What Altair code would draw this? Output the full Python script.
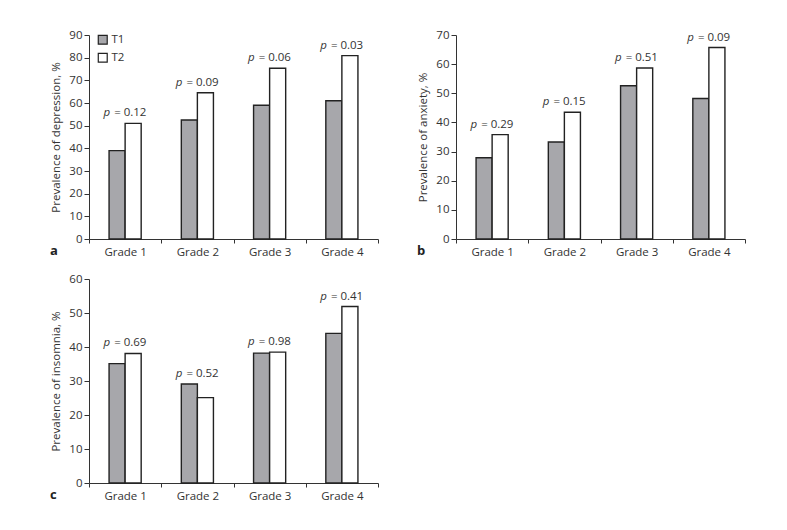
import altair as alt
import pandas as pd

grades = ["Grade 1", "Grade 2", "Grade 3", "Grade 4"]
times = ["T1", "T2"]

depression_t1 = [39, 52.5, 59, 61]
depression_t2 = [51, 64.5, 75.3, 80.9]
depression_p = ["= 0.12", "= 0.09", "= 0.06", "= 0.03"]

anxiety_t1 = [27.9, 33.3, 52.6, 48.2]
anxiety_t2 = [35.8, 43.5, 58.7, 65.7]
anxiety_p = ["= 0.29", "= 0.15", "= 0.51", "= 0.09"]

insomnia_t1 = [35.1, 29.1, 38.2, 44.0]
insomnia_t2 = [38.1, 25.1, 38.5, 51.9]
insomnia_p = ["= 0.69", "= 0.52", "= 0.98", "= 0.41"]

FONT = "Open Sans"
W, H = 289, 204
offset_domain = ["_l", "T1", "T2", "_r"]


def panel(t1, t2, pvals, ymax, title, letter, legend):
    bars = pd.DataFrame({
        "grade": grades * 2,
        "time": ["T1"] * 4 + ["T2"] * 4,
        "value": t1 + t2,
    })
    labels = pd.DataFrame({
        "grade": grades,
        "value": [max(a, b) for a, b in zip(t1, t2)],
        "p": ["p"] * 4,
        "rest": pvals,
    })
    x = alt.X("grade:N", sort=grades, title=None,
              scale=alt.Scale(paddingInner=0, paddingOuter=0),
              axis=alt.Axis(labelAngle=0, tickBand="extent", tickSize=4,
                            labelPadding=3, domainColor="#333", tickColor="#333",
                            labelColor="#333", labelFont=FONT, labelFontSize=11.5))
    y = alt.Y("value:Q", title=title,
              scale=alt.Scale(domain=[0, ymax], nice=False),
              axis=alt.Axis(values=list(range(0, ymax + 1, 10)), labelOverlap=False,
                            grid=False, tickSize=5, labelPadding=2,
                            domainColor="#333", tickColor="#333", labelColor="#333",
                            labelFont=FONT, labelFontSize=11.5,
                            titleFont=FONT, titleFontSize=11.5, titleFontWeight="normal",
                            titleColor="#333", titlePadding=7))
    color_kwargs = dict(
        scale=alt.Scale(domain=times, range=["#a7a7ab", "#ffffff"]),
        title=None,
    )
    if legend:
        color_kwargs["legend"] = alt.Legend(
            orient="none", legendX=8, legendY=-1, symbolType="square",
            symbolSize=80, symbolStrokeColor="#222", symbolStrokeWidth=1.2,
            labelFont=FONT, labelFontSize=11.5, labelColor="#333",
            labelOffset=3, rowPadding=3, padding=0)
    else:
        color_kwargs["legend"] = None

    bar = alt.Chart(bars).mark_bar(stroke="#222", strokeWidth=1.4).encode(
        x=x,
        xOffset=alt.XOffset("time:N",
                            scale=alt.Scale(domain=offset_domain,
                                            paddingInner=0, paddingOuter=0.25)),
        y=y,
        fill=alt.Fill("time:N", **color_kwargs),
    )
    ptxt = alt.Chart(labels).mark_text(
        font=FONT, fontSize=11.5, fontStyle="italic", align="right",
        baseline="alphabetic", dx=-15, dy=-7, color="#333"
    ).encode(x=x, y=y, text="p:N")
    rtxt = alt.Chart(labels).mark_text(
        font=FONT, fontSize=11.5, align="left",
        baseline="alphabetic", dx=-11, dy=-7, color="#333"
    ).encode(x=x, y=y, text="rest:N")

    return alt.layer(bar, ptxt, rtxt).properties(
        width=W, height=H,
        title=alt.TitleParams(letter, orient="bottom", anchor="start", frame="group",
                              dx=-39, dy=-13, font=FONT, fontSize=13,
                              fontWeight="bold", color="#222", offset=0),
    )


a = panel(depression_t1, depression_t2, depression_p, 90,
          "Prevalence of depression, %", "a", True)
b = panel(anxiety_t1, anxiety_t2, anxiety_p, 70,
          "Prevalence of anxiety, %", "b", False)
c = panel(insomnia_t1, insomnia_t2, insomnia_p, 60,
          "Prevalence of insomnia, %", "c", False)

chart = alt.concat(a, b, c, columns=2, spacing={"row": 15, "column": 38}).properties(
    padding={"left": 42, "top": 21, "right": 0, "bottom": 0},
    background="#ffffff",
).configure_view(stroke=None)

chart.save("out.html", embed_options={"renderer": "svg", "actions": False})
